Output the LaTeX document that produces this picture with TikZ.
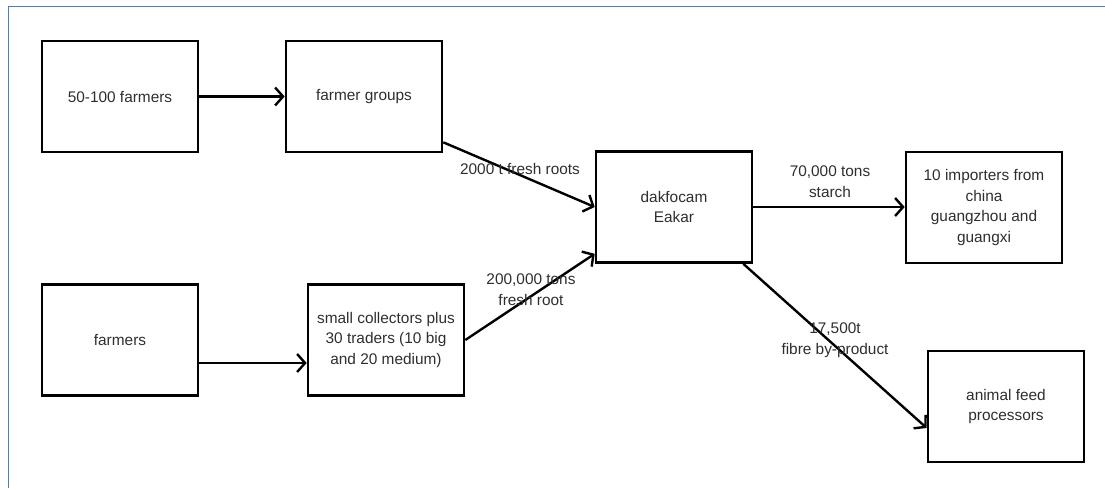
\documentclass[tikz,border=0pt]{standalone}
\usepackage{fontspec}
\setmainfont{Liberation Sans}
\usetikzlibrary{arrows.meta,calc}
\definecolor{framecol}{HTML}{4A7BD0}
\definecolor{txtcol}{HTML}{2E2E2E}
\begin{document}
\begin{tikzpicture}[x=1pt,y=-1pt,
  box/.style={draw=black,line width=2.6pt,minimum width=156pt,minimum height=111pt,
    align=center,text=txtcol,font=\fontsize{15.4}{20.7}\selectfont,inner sep=2pt},
  conn/.style={draw=black,line width=2.4pt,-{Straight Barb[length=8pt,width=18pt]}},
  lbl/.style={align=center,text=txtcol,font=\fontsize{15.4}{20.7}\selectfont,inner sep=0pt}]
\useasboundingbox (0,0) rectangle (1105,488);
\draw[framecol,line width=1.6pt] (8.5,488) -- (8.5,6.5) -- (1105,6.5);

\node[box] (f1) at (120,96.5) {50-100 farmers};
\node[box] (fg) at (364,96.5) {farmer groups};
\node[box] (fa) at (120,340) {farmers};
\node[box] (sc) at (386,340) {small collectors plus\\30 traders (10 big\\and 20 medium)};
\node[box] (dk) at (674,207) {dakfocam\\Eakar};
\node[box] (im) at (984,207.5) {10 importers from\\china\\guangzhou and\\guangxi};
\node[box] (af) at (1006,406.5) {animal feed\\processors};

\draw[conn] (f1.east) -- (fg.west);
\draw[conn] ([yshift=-23pt]fa.east) -- ([yshift=-23pt]fa.east -| sc.west);
\draw[conn] ([yshift=11pt]fg.south east) -- (dk.west);
\draw[conn] (sc.east) -- ([yshift=10pt]dk.south west);
\draw[conn] (dk.east) -- (dk.east -| im.west);
\draw[conn] ([xshift=-10pt]dk.south east) -- ([yshift=-21.5pt]af.west);

\node[lbl] (l1) at (520,169) {2000 t fresh roots};
\node[lbl] (l2) at (531,290) {200,000 tons\\fresh root};
\node[lbl] (l3) at (830,182) {70,000 tons\\starch};
\node[lbl] (l4) at (835,340) {17,500t\\fibre by-product};
\end{tikzpicture}
\end{document}
